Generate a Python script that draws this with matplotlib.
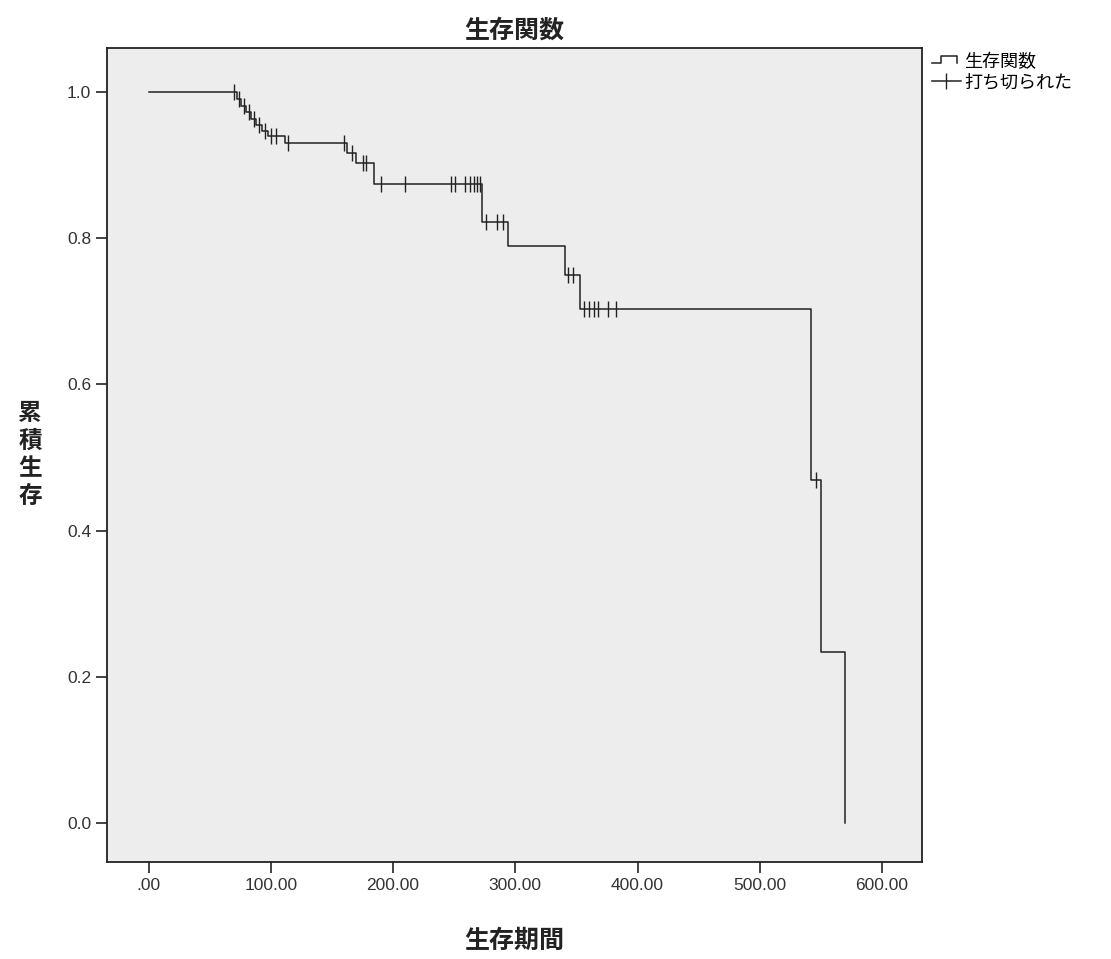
import numpy as np
import matplotlib
matplotlib.use('Agg')
import matplotlib.pyplot as plt
from matplotlib.lines import Line2D
from matplotlib.legend_handler import HandlerBase

plt.rcParams['font.family'] = ['Noto Sans CJK JP', 'DejaVu Sans']

# KM step points: time at which survival drops, new level
step_times = [0, 72, 76, 80, 84, 88, 93, 98, 112, 162, 170, 184, 273, 294, 341, 353, 542, 550, 570]
step_surv = [1.0, 0.990, 0.981, 0.972, 0.963, 0.955, 0.947, 0.940, 0.930, 0.916, 0.903, 0.874,
             0.822, 0.789, 0.750, 0.703, 0.469, 0.234, 0.0]

# censored cases
cens_times = [70, 74, 78, 82, 86, 90, 95, 100, 104, 114, 160, 166, 175, 178, 190, 210,
              247, 251, 259, 263, 266, 269, 271, 276, 285, 290, 343, 347,
              356, 360, 364, 368, 376, 382, 546]
cens_surv = [1.0, 0.990, 0.981, 0.972, 0.963, 0.955, 0.947, 0.940, 0.940, 0.930, 0.930, 0.916,
             0.903, 0.903, 0.874, 0.874, 0.874, 0.874, 0.874, 0.874, 0.874, 0.874, 0.874,
             0.822, 0.822, 0.822, 0.750, 0.750, 0.703, 0.703, 0.703, 0.703, 0.703, 0.703, 0.469]

xticks = [0, 100, 200, 300, 400, 500, 600]
xlabels = ['.00', '100.00', '200.00', '300.00', '400.00', '500.00', '600.00']
yticks = [0.0, 0.2, 0.4, 0.6, 0.8, 1.0]
ylabels = ['0.0', '0.2', '0.4', '0.6', '0.8', '1.0']


class StepHandler(HandlerBase):
    # little step-shaped icon like the SPSS legend
    def create_artists(self, legend, orig, xd, yd, w, h, fontsize, trans):
        xs = [-xd, -xd + w * 0.3, -xd + w * 0.3, -xd + w * 0.85, -xd + w * 0.85]
        y0 = h * 0.35 - yd
        y1 = h * 0.9 - yd
        ys = [y0, y0, y1, y1, y0]
        ln = Line2D(xs, ys, color=orig.get_color(), lw=orig.get_linewidth())
        ln.set_transform(trans)
        return [ln]


fig = plt.figure(figsize=(11.11, 9.59), dpi=100)
fig.patch.set_facecolor('white')
ax = fig.add_axes([0.0963, 0.1011, 0.734, 0.849])
ax.set_facecolor('#ededed')

ax.step(step_times, step_surv, where='post', color='#222222', lw=1.1)
ax.plot(cens_times, cens_surv, ls='none', marker='|', ms=12, mew=1.0, color='#222222')

ax.set_xlim(-34, 633)
ax.set_ylim(-0.053, 1.06)
ax.set_xticks(xticks)
ax.set_xticklabels(xlabels, family='Liberation Sans')
ax.set_yticks(yticks)
ax.set_yticklabels(ylabels, family='Liberation Sans')
ax.tick_params(axis='both', direction='out', length=8, width=1.2, colors='#222222',
               labelsize=12.5, labelcolor='#333333')
for s in ax.spines.values():
    s.set_color('#222222')
    s.set_linewidth(1.3)

fig.text(0.463, 0.968, '生存関数', ha='center', va='center', fontsize=18, fontweight='bold', color='#222222')
fig.text(0.463, 0.019, '生存期間', ha='center', va='center', fontsize=18, fontweight='bold', color='#222222')
fig.text(0.027, 0.526, '累\n積\n生\n存', ha='center', va='center', fontsize=17, fontweight='bold',
         color='#222222', linespacing=1.2)

h_surv = Line2D([], [], color='#222222', lw=1.1)
h_cens = Line2D([], [], color='#222222', lw=1.1, marker='|', ms=12, mew=1.0)
ax.legend([h_surv, h_cens], ['生存関数', '打ち切られた'], loc='upper left', bbox_to_anchor=(1.005, 1.0),
          frameon=False, fontsize=13, handlelength=1.6, handletextpad=0.2, borderpad=0.3,
          labelspacing=0.1, borderaxespad=0, handler_map={h_surv: StepHandler()})

fig.savefig('out.png', dpi=100)
